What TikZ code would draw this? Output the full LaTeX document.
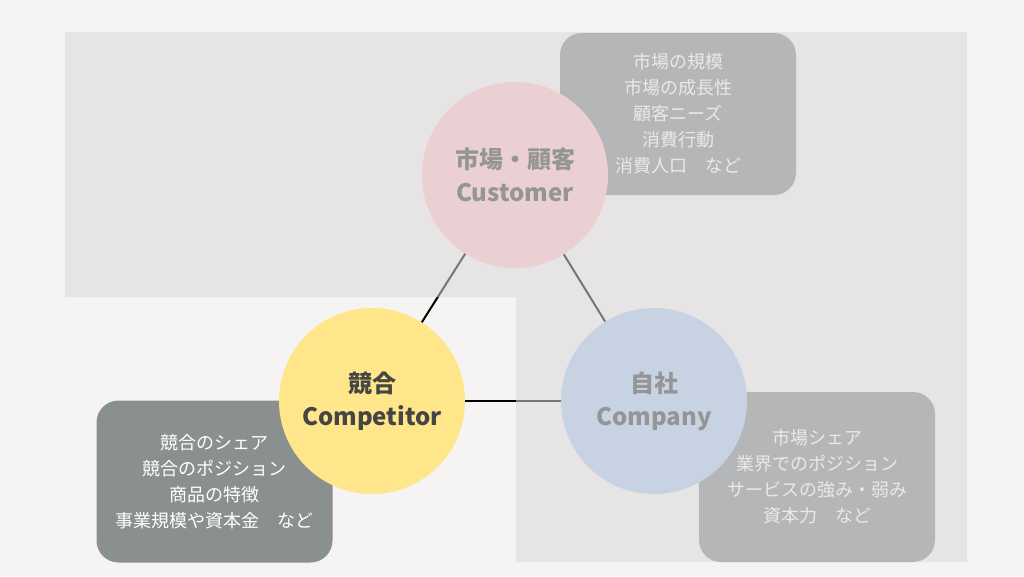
\documentclass[tikz,border=0pt]{standalone}
\usepackage{fontspec}
\setmainfont{Noto Sans CJK JP}
\definecolor{bgc}{RGB}{245,244,242}
\definecolor{veil}{RGB}{218,215,217}
\definecolor{boxc}{RGB}{138,143,143}
\definecolor{pinkc}{RGB}{255,199,204}
\definecolor{bluec}{RGB}{178,208,241}
\definecolor{yellowc}{RGB}{255,230,138}
\definecolor{textc}{RGB}{69,69,69}
\tikzset{
  circ/.style={circle, minimum size=186pt, inner sep=0pt, draw=none, text=textc,
    font=\bfseries\fontsize{24}{33}\selectfont, align=center},
  infobox/.style={rectangle, rounded corners=22pt, fill=boxc, text=white,
    minimum width=236pt, minimum height=162pt, inner sep=0pt,
    font=\fontsize{18}{26}\selectfont, align=center},
  conn/.style={draw=black, line width=2pt}
}
\begin{document}
\begin{tikzpicture}[x=1pt,y=-1pt]
\fill[bgc] (0,0) rectangle (1024,576);
\useasboundingbox (0,0) rectangle (1024,576);
% info boxes
\node[infobox] (custbox) at (678,114) {市場の規模\\市場の成長性\\顧客ニーズ\\消費行動\\消費人口　など};
\node[infobox] (comptbox) at (214.5,481.5) {競合のシェア\\競合のポジション\\商品の特徴\\事業規模や資本金　など};
\node[infobox, minimum height=170pt] (compybox) at (817,477) {市場シェア\\業界でのポジション\\サービスの強み・弱み\\資本力　など};
% circles
\node[circ, fill=pinkc] (cust) at (515,175) {市場・顧客\\Customer};
\node[circ, fill=yellowc] (compt) at (372,401) {競合\\Competitor};
\node[circ, fill=bluec] (compy) at (654,401) {自社\\Company};
% connectors
\draw[conn] (cust) -- (compt);
\draw[conn] (compt) -- (compy);
\draw[conn] (cust) -- (compy);
% veil
\fill[veil, fill opacity=0.55] (65,32) -- (967,32) -- (967,562) -- (516,562) -- (516,297) -- (65,297) -- cycle;
\end{tikzpicture}
\end{document}
